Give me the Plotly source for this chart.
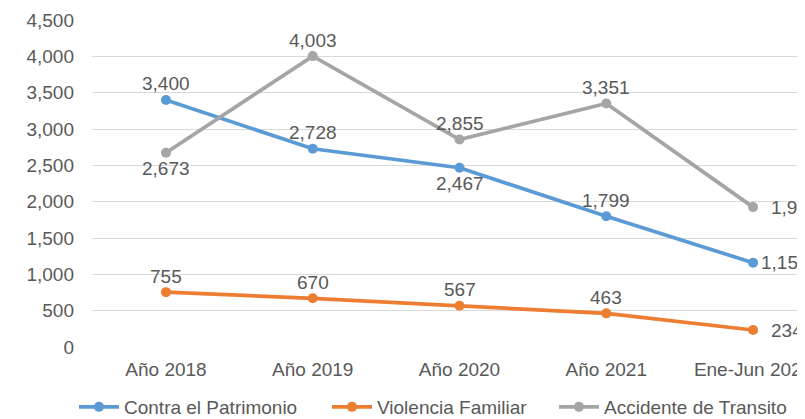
import plotly.graph_objects as go

categories = ["Año 2018", "Año 2019", "Año 2020", "Año 2021", "Ene-Jun 2022"]
patrimonio = [3400, 2728, 2467, 1799, 1159]
violencia = [755, 670, 567, 463, 234]
accidente = [2673, 4003, 2855, 3351, 1925]

# label placement (style only)
pos_patrimonio = ["above", "above", "below", "above", "right_near"]
pos_violencia = ["above", "above", "above", "above", "right"]
pos_accidente = ["below", "above", "above", "above", "right"]

text_color = "#595959"
font_family = "Liberation Sans"
FS = 19

# page body has an 8px margin: figure is sized so it ends at the window edge
W, H = 797, 411

series = [
    ("Contra el Patrimonio", patrimonio, pos_patrimonio, "#5B9BD5", "legend", 72),
    ("Violencia Familiar", violencia, pos_violencia, "#ED7D31", "legend2", 325),
    ("Accidente de Transito", accidente, pos_accidente, "#A5A5A5", "legend3", 552),
]

offsets = {
    "above": dict(xanchor="center", yanchor="middle", xshift=0, yshift=16),
    "below": dict(xanchor="center", yanchor="middle", xshift=0, yshift=-16),
    "right": dict(xanchor="left", yanchor="middle", xshift=16, yshift=0),
    "right_near": dict(xanchor="left", yanchor="middle", xshift=6, yshift=0),
}

fig = go.Figure()
legends = {}
annotations = []
for name, vals, pos, color, leg, lx in series:
    fig.add_trace(go.Scatter(
        x=categories, y=vals, name=name, legend=leg,
        mode="lines+markers",
        line=dict(color=color, width=3.7),
        marker=dict(color=color, size=10),
        cliponaxis=False,
    ))
    for c, v, p in zip(categories, vals, pos):
        annotations.append(dict(
            x=c, y=v, xref="x", yref="y", text=f"{v:,}", showarrow=False,
            font=dict(color=text_color, size=FS, family=font_family),
            **offsets[p]))
    legends[leg] = dict(orientation="h", xref="container", yref="container",
                        x=(lx - 6) / W, xanchor="left", y=12 / H, yanchor="middle",
                        font=dict(size=FS, color=text_color, family=font_family),
                        itemwidth=40, bgcolor="rgba(0,0,0,0)")

fig.update_layout(
    width=W, height=H,
    margin=dict(l=84, r=0, t=12, b=72, autoexpand=False),
    paper_bgcolor="white", plot_bgcolor="white",
    font=dict(family=font_family, color=text_color, size=FS),
    showlegend=True,
    annotations=annotations,
    **legends,
    xaxis=dict(type="category", range=[-0.504, 4.354], showgrid=False, automargin=False,
               showline=False, ticks="", ticklabelstandoff=9,
               tickfont=dict(size=FS, color=text_color)),
    yaxis=dict(range=[0, 4500], dtick=500, tickformat=",", showgrid=True, automargin=False,
               gridcolor="#D9D9D9", gridwidth=1, zeroline=False, showline=False,
               ticks="", ticklabelstandoff=17, tickfont=dict(size=FS, color=text_color)),
)

fig.write_html("out.html")
